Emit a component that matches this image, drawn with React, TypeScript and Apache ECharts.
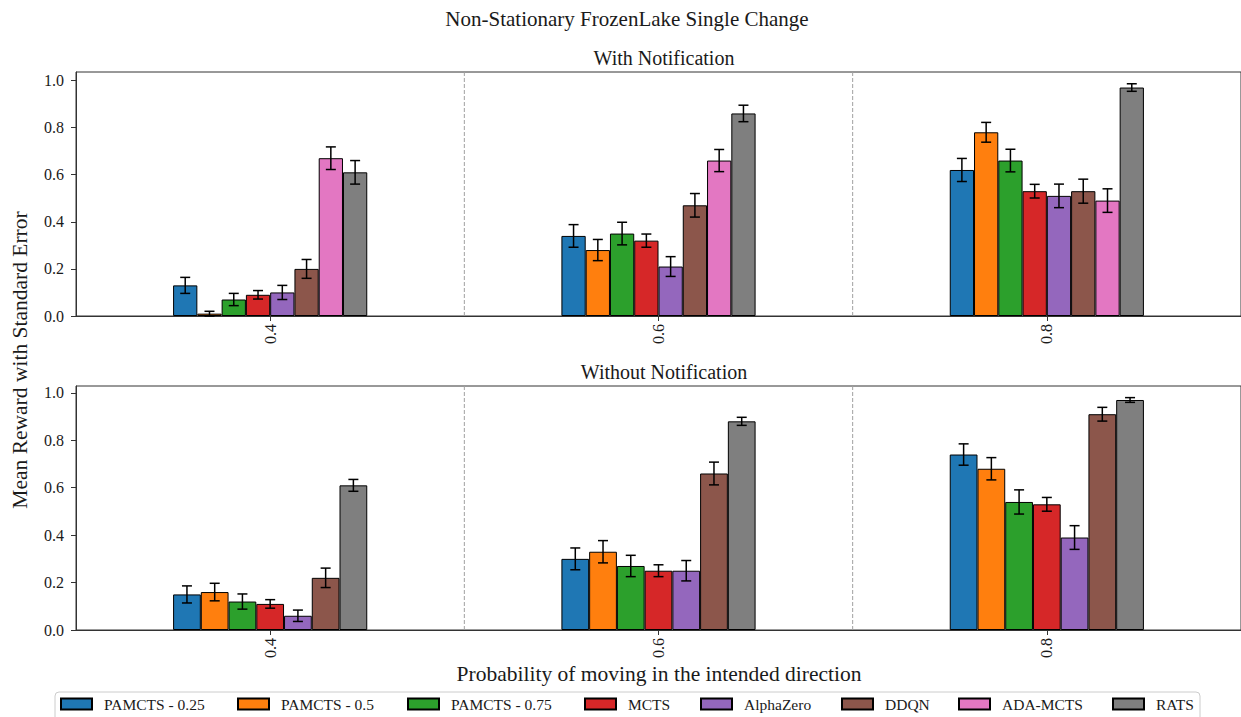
import React, { useEffect, useRef } from "react";
import * as echarts from "echarts";

const categories = ["0.4", "0.6", "0.8"];
const yTicks = [0, 0.2, 0.4, 0.6, 0.8, 1.0];

const methods = ["PAMCTS - 0.25", "PAMCTS - 0.5", "PAMCTS - 0.75", "MCTS", "AlphaZero", "DDQN", "ADA-MCTS", "RATS"];
const methodColors = ["#1f77b4", "#ff7f0e", "#2ca02c", "#d62728", "#9467bd", "#8c564b", "#e377c2", "#7f7f7f"];

// With Notification (top)
const topMethods = ["PAMCTS - 0.25", "PAMCTS - 0.5", "PAMCTS - 0.75", "MCTS", "AlphaZero", "DDQN", "ADA-MCTS", "RATS"];
const topMeans = [
  [0.13, 0.34, 0.62],
  [0.01, 0.28, 0.78],
  [0.07, 0.35, 0.66],
  [0.09, 0.32, 0.53],
  [0.10, 0.21, 0.51],
  [0.20, 0.47, 0.53],
  [0.67, 0.66, 0.49],
  [0.61, 0.86, 0.97],
];
const topErrs = [
  [0.034, 0.048, 0.049],
  [0.010, 0.045, 0.042],
  [0.026, 0.048, 0.048],
  [0.018, 0.028, 0.029],
  [0.030, 0.042, 0.050],
  [0.040, 0.050, 0.051],
  [0.048, 0.047, 0.050],
  [0.050, 0.035, 0.016],
];

// Without Notification (bottom)
const bottomMethods = ["PAMCTS - 0.25", "PAMCTS - 0.5", "PAMCTS - 0.75", "MCTS", "AlphaZero", "DDQN", "RATS"];
const bottomMeans = [
  [0.15, 0.30, 0.74],
  [0.16, 0.33, 0.68],
  [0.12, 0.27, 0.54],
  [0.11, 0.25, 0.53],
  [0.06, 0.25, 0.39],
  [0.22, 0.66, 0.91],
  [0.61, 0.88, 0.97],
];
const bottomErrs = [
  [0.036, 0.046, 0.045],
  [0.037, 0.047, 0.047],
  [0.032, 0.045, 0.051],
  [0.018, 0.025, 0.029],
  [0.024, 0.043, 0.050],
  [0.041, 0.048, 0.029],
  [0.025, 0.017, 0.010],
];

const FONT = '"Liberation Serif", "Times New Roman", serif';
const TEXT = "#1a1a1a";
const AXIS = "#333";

function colorOf(name: string) {
  return methodColors[methods.indexOf(name)];
}

export default function App() {
  const ref = useRef<HTMLDivElement>(null);

  useEffect(() => {
    if (!ref.current) return;
    const chart = echarts.init(ref.current, null, { renderer: "svg" });

    const grids = [
      { left: 76, top: 72, width: 1166, height: 244, show: true, borderColor: AXIS, borderWidth: 1, backgroundColor: "transparent" },
      { left: 76, top: 386, width: 1166, height: 244, show: true, borderColor: AXIS, borderWidth: 1, backgroundColor: "transparent" },
    ];
    const yMax = [1.036, 1.029];

    const xAxes = [0, 1].map((g) => ({
      type: "category",
      gridIndex: g,
      data: categories,
      axisLine: { show: true, lineStyle: { color: AXIS, width: 1 } },
      axisTick: { show: true, alignWithLabel: true, length: 5, lineStyle: { color: AXIS } },
      axisLabel: { rotate: 90, fontFamily: FONT, fontSize: 16, color: TEXT, margin: 8 },
      splitLine: { show: false },
    }));
    const yAxes = [0, 1].map((g) => ({
      type: "value",
      gridIndex: g,
      min: 0,
      max: yMax[g],
      interval: 0.2,
      axisLine: { show: true, lineStyle: { color: AXIS, width: 1 } },
      axisTick: { show: true, length: 5, lineStyle: { color: AXIS } },
      axisLabel: {
        fontFamily: FONT,
        fontSize: 16,
        color: TEXT,
        margin: 12,
        showMaxLabel: false,
        formatter: (v: number) => (yTicks.some((t) => Math.abs(t - v) < 1e-6) ? v.toFixed(1) : ""),
      },
      splitLine: { show: false },
    }));

    const series: any[] = [];

    const addGroup = (g: number, names: string[], means: number[][], errs: number[][]) => {
      const n = names.length;
      const pct = (50 / n).toFixed(4) + "%";
      names.forEach((name, i) => {
        series.push({
          type: "bar",
          name,
          xAxisIndex: g,
          yAxisIndex: g,
          data: means[i],
          barWidth: pct,
          barGap: "0%",
          itemStyle: { color: colorOf(name), borderColor: "#000", borderWidth: 1 },
          z: 2,
        });
      });
      const errData: number[][] = [];
      names.forEach((_, i) => {
        categories.forEach((_, c) => {
          errData.push([c, i, means[i][c], errs[i][c]]);
        });
      });
      series.push({
        type: "custom",
        xAxisIndex: g,
        yAxisIndex: g,
        data: errData,
        encode: { x: 0, y: 2 },
        z: 5,
        silent: true,
        renderItem: (params: any, api: any) => {
          const ci = api.value(0);
          const si = api.value(1);
          const v = api.value(2);
          const e = api.value(3);
          const band = api.size([1, 0])[0];
          const bw = (band * 0.5) / n;
          const cx = api.coord([ci, v])[0] + (si - (n - 1) / 2) * bw;
          const yT = api.coord([ci, v + e])[1];
          const yB = api.coord([ci, v - e])[1];
          const cap = 5;
          const st = { stroke: "#000", lineWidth: 1.5 };
          return {
            type: "group",
            children: [
              { type: "line", shape: { x1: cx, y1: yT, x2: cx, y2: yB }, style: st },
              { type: "line", shape: { x1: cx - cap, y1: yT, x2: cx + cap, y2: yT }, style: st },
              { type: "line", shape: { x1: cx - cap, y1: yB, x2: cx + cap, y2: yB }, style: st },
            ],
          };
        },
      });
      // dashed separators between categories
      series.push({
        type: "custom",
        xAxisIndex: g,
        yAxisIndex: g,
        data: categories.slice(0, -1).map((_, c) => [c, 0]),
        encode: { x: 0, y: 1 },
        z: 1,
        silent: true,
        renderItem: (params: any, api: any) => {
          const band = api.size([1, 0])[0];
          const x = api.coord([api.value(0), 0])[0] + band / 2;
          const cs = params.coordSys;
          return {
            type: "line",
            shape: { x1: x, y1: cs.y, x2: x, y2: cs.y + cs.height },
            style: { stroke: "#a0a0a0", lineWidth: 1, lineDash: [4, 2] },
          };
        },
      });
    };

    addGroup(0, topMethods, topMeans, topErrs);
    addGroup(1, bottomMethods, bottomMeans, bottomErrs);

    const legendLeft = [60, 237, 407, 584, 700, 841, 958, 1112];
    const legends = methods.map((name, i) => ({
      data: [name],
      left: legendLeft[i],
      top: 696,
      padding: 0,
      itemWidth: 31,
      itemHeight: 11,
      icon: "rect",
      selectedMode: false,
      textStyle: { fontFamily: FONT, fontSize: 15.5, color: TEXT, padding: [0, 0, 0, 7] },
    }));

    chart.setOption({
      animation: false,
      backgroundColor: "#fff",
      title: [
        { text: "Non-Stationary FrozenLake Single Change", left: 622, top: 3, textAlign: "center", textStyle: { fontFamily: FONT, fontSize: 21, fontWeight: "normal", color: TEXT } },
        { text: "With Notification", left: 659, top: 43, textAlign: "center", textStyle: { fontFamily: FONT, fontSize: 20, fontWeight: "normal", color: TEXT } },
        { text: "Without Notification", left: 659, top: 357, textAlign: "center", textStyle: { fontFamily: FONT, fontSize: 20, fontWeight: "normal", color: TEXT } },
      ],
      grid: grids,
      xAxis: xAxes,
      yAxis: yAxes,
      legend: legends,
      series,
      graphic: [
        {
          type: "rect",
          z: 0,
          shape: { x: 55, y: 692, width: 1145, height: 40, r: 4 },
          style: { fill: "#fff", stroke: "#cccccc", lineWidth: 1 },
        },
        {
          type: "text",
          x: 20,
          y: 360,
          rotation: Math.PI / 2,
          style: { text: "Mean Reward with Standard Error", fontFamily: FONT, fontSize: 21.5, fill: TEXT, textAlign: "center", textVerticalAlign: "middle" },
        },
        {
          type: "text",
          x: 659,
          y: 674,
          style: { text: "Probability of moving in the intended direction", fontFamily: FONT, fontSize: 21.5, fill: TEXT, textAlign: "center", textVerticalAlign: "middle" },
        },
      ],
    });

    return () => chart.dispose();
  }, []);

  return <div ref={ref} style={{ position: "fixed", left: 0, top: 0, width: 1241, height: 717 }} />;
}
